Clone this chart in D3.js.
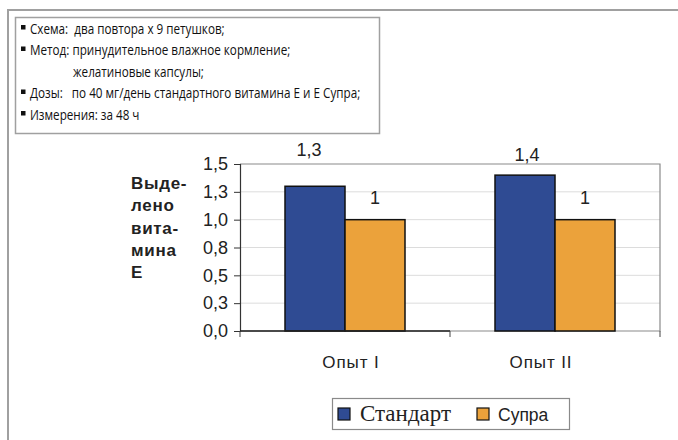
<!DOCTYPE html>
<html>
<head>
<meta charset="utf-8">
<script src="https://cdn.jsdelivr.net/npm/d3@7"></script>
<style>
  html, body { margin: 0; padding: 0; background: #fff; }
  svg { display: block; }
  text { white-space: pre; }
</style>
</head>
<body>
<svg id="chart" width="678" height="440"></svg>
<script>
// Experiment groups and series
const categories = ["Опыт I", "Опыт II"];
const seriesNames = ["Стандарт", "Супра"];
const standardValues = [1.3, 1.4];
const supraValues = [1, 1];
const yTickValues = [0, 0.25, 0.5, 0.75, 1, 1.25, 1.5];
const yTitleLines = ["Выде-", "лено", "вита-", "мина", "Е"];
const notes = [
  { bullet: true,  text: "Схема:  два повтора х 9 петушков;" },
  { bullet: true,  text: "Метод: принудительное влажное кормление;" },
  { bullet: false, text: "желатиновые капсулы;" },
  { bullet: true,  text: "Дозы:   по 40 мг/день стандартного витамина Е и Е Супра;" },
  { bullet: true,  text: "Измерения: за 48 ч" }
];

const colors = { "Стандарт": "#2f4b93", "Супра": "#eba23b" };
const svg = d3.select("#chart");

// Outer frame (top and left edges)
svg.append("path")
  .attr("d", "M8,440 V10 H678")
  .attr("fill", "none").attr("stroke", "#a0a0a0").attr("stroke-width", 2);

// Notes box
const notesG = svg.append("g");
notesG.append("rect")
  .attr("x", 15.5).attr("y", 17.5).attr("width", 364).attr("height", 116)
  .attr("fill", "#fff").attr("stroke", "#a0a0a0").attr("stroke-width", 1.5);
const noteRows = notesG.selectAll("g.note").data(notes).join("g")
  .attr("class", "note")
  .attr("transform", (d, i) => `translate(0,${33.5 + i * 21.5})`);
noteRows.filter(d => d.bullet).append("rect")
  .attr("x", 21).attr("y", -8.5).attr("width", 4.5).attr("height", 4.5).attr("fill", "#111");
noteRows.append("text")
  .attr("x", d => d.bullet ? 30 : 73)
  .attr("font-family", "'Open Sans', sans-serif")
  .attr("font-size", 15)
  .attr("fill", "#111")
  .text(d => d.text);
// condense the notes font horizontally
noteRows.selectAll("text").each(function () {
  const t = d3.select(this);
  const x0 = +t.attr("x");
  t.attr("transform", `translate(${x0},0) scale(0.78,1) translate(${-x0},0)`);
});

// Plot area
const plot = { left: 240, right: 660, top: 164, bottom: 331 };
const y = d3.scaleLinear().domain([0, 1.5]).range([plot.bottom, plot.top]);
const x = d3.scaleBand().domain(categories).range([plot.left, plot.right]).padding(0);
const xs = d3.scaleBand().domain(seriesNames).range([0, x.bandwidth()])
  .paddingInner(0).paddingOuter(0.75);

// Gridlines
svg.append("g").selectAll("line").data(yTickValues.filter(v => v > 0 && v < 1.5)).join("line")
  .attr("x1", plot.left).attr("x2", plot.right)
  .attr("y1", d => y(d)).attr("y2", d => y(d))
  .attr("stroke", "#dcdcdc").attr("stroke-width", 1);

// Plot border (top, right, bottom)
svg.append("path")
  .attr("d", `M${plot.left},${plot.top} H${plot.right} V${plot.bottom} H${plot.left}`)
  .attr("fill", "none").attr("stroke", "#8a8a8a").attr("stroke-width", 1.2);

// Bars
const rows = categories.map((c, i) => ({ category: c, values: [
  { series: seriesNames[0], value: standardValues[i] },
  { series: seriesNames[1], value: supraValues[i] }
]}));
const groups = svg.append("g").selectAll("g").data(rows).join("g")
  .attr("transform", d => `translate(${x(d.category)},0)`);
groups.selectAll("rect").data(d => d.values).join("rect")
  .attr("x", d => xs(d.series))
  .attr("y", d => y(d.value))
  .attr("width", xs.bandwidth())
  .attr("height", d => y(0) - y(d.value))
  .attr("fill", d => colors[d.series])
  .attr("stroke", "#111").attr("stroke-width", 1.5);

// Value labels (small hand nudges per label)
const fmt = v => String(v).replace(".", ",");
const labelNudge = [[[-6, -30], [0, -16]], [[2, -14], [0, -16]]];
groups.each(function (d, gi) {
  d3.select(this).selectAll("text.val").data(d.values).join("text")
    .attr("class", "val")
    .attr("x", (v, si) => xs(v.series) + xs.bandwidth() / 2 + labelNudge[gi][si][0])
    .attr("y", (v, si) => y(v.value) + labelNudge[gi][si][1])
    .attr("text-anchor", "middle")
    .attr("font-family", "'Liberation Sans', Arial, sans-serif")
    .attr("font-size", 18)
    .attr("fill", "#222")
    .text(v => fmt(v.value));
});

// Y axis
const yAxis = svg.append("g")
  .attr("transform", `translate(${plot.left},0)`)
  .call(d3.axisLeft(y).tickValues(yTickValues).tickSize(6).tickPadding(6)
    .tickFormat(v => v.toFixed(1).replace(".", ",")));
yAxis.select(".domain").attr("stroke", "#333").attr("stroke-width", 1.2);
yAxis.selectAll(".tick line").attr("stroke", "#333");
yAxis.selectAll(".tick text")
  .attr("font-family", "'Liberation Sans', Arial, sans-serif")
  .attr("font-size", 18).attr("fill", "#222");

// X axis: ticks on category boundaries
const xAxisG = svg.append("g").attr("transform", `translate(0,${plot.bottom})`);
xAxisG.append("line")
  .attr("x1", plot.left).attr("x2", x(categories[1]))
  .attr("stroke", "#222").attr("stroke-width", 1.4);
const boundaries = [plot.left, ...categories.map(c => x(c) + x.bandwidth())];
xAxisG.selectAll("line.tick").data(boundaries).join("line")
  .attr("class", "tick")
  .attr("x1", d => d).attr("x2", d => d).attr("y1", 0).attr("y2", 6)
  .attr("stroke", "#444");
const catNudge = [6, -14];
xAxisG.selectAll("text").data(categories).join("text")
  .attr("x", (d, i) => x(d) + x.bandwidth() / 2 + catNudge[i])
  .attr("y", 37)
  .attr("text-anchor", "middle")
  .attr("font-family", "'Liberation Sans', Arial, sans-serif")
  .attr("font-size", 17)
  .attr("letter-spacing", 0.9)
  .attr("fill", "#222")
  .text(d => d);

// Y axis title
svg.append("g").selectAll("text").data(yTitleLines).join("text")
  .attr("x", 131).attr("y", (d, i) => 189 + i * 22.3)
  .attr("font-family", "'Liberation Sans', Arial, sans-serif")
  .attr("font-size", 17).attr("font-weight", "bold")
  .attr("letter-spacing", 0.7)
  .attr("fill", "#222")
  .text(d => d);

// Legend
const legend = svg.append("g");
legend.append("rect")
  .attr("x", 332.5).attr("y", 398.5).attr("width", 237).attr("height", 31)
  .attr("fill", "#fff").attr("stroke", "#8a8a8a").attr("stroke-width", 1.2);
const legendItems = [
  { name: seriesNames[0], x: 338, font: "'Liberation Serif', 'Times New Roman', serif", size: 23 },
  { name: seriesNames[1], x: 477, font: "'Liberation Sans', Arial, sans-serif", size: 17.5 }
];
const li = legend.selectAll("g").data(legendItems).join("g")
  .attr("transform", d => `translate(${d.x},0)`);
li.append("rect")
  .attr("x", 0).attr("y", 408).attr("width", 12).attr("height", 12)
  .attr("fill", d => colors[d.name]).attr("stroke", "#111").attr("stroke-width", 1.2);
li.append("text")
  .attr("x", d => d.name === seriesNames[0] ? 22 : 21)
  .attr("y", 421)
  .attr("font-family", d => d.font)
  .attr("font-size", d => d.size)
  .attr("fill", "#222")
  .text(d => d.name);
</script>
</body>
</html>
